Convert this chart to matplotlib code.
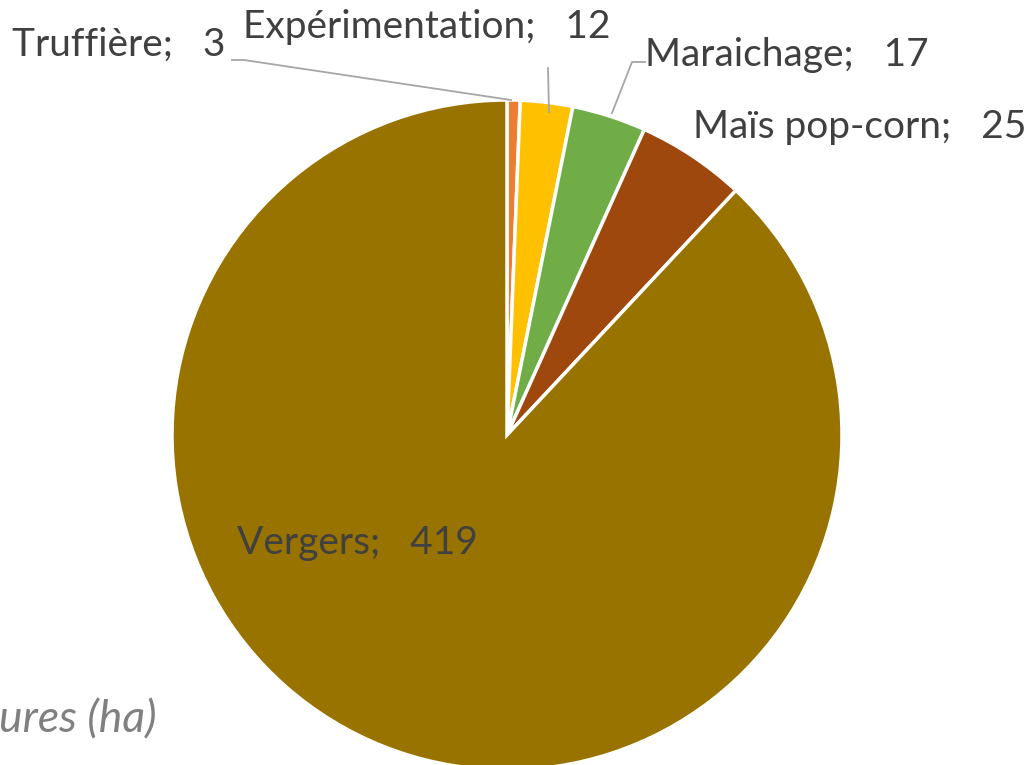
import matplotlib.pyplot as plt

# Data
categories = ["Truffière", "Expérimentation", "Maraichage", "Maïs pop-corn", "Vergers"]
surfaces = [3, 12, 17, 25, 419]
colors = ["#ED7D31", "#FFC000", "#70AD47", "#9E480E", "#997300"]
title = "ures (ha)"  # only visible part of the title in the reference

plt.rcParams['font.family'] = ['Lato', 'DejaVu Sans']

fig = plt.figure(figsize=(10.32, 7.65), dpi=100)
ax = fig.add_axes([0, 0, 1, 1])

# pie centre / radius in pixel units (y up)
cx, cy, r = 507, 330, 335
wedges, _ = ax.pie(surfaces, colors=colors, startangle=90, counterclock=False,
                   center=(cx, cy), radius=r, frame=True,
                   wedgeprops=dict(edgecolor="white", linewidth=2.5))
ax.set_xlim(0, 1032)
ax.set_ylim(0, 765)
ax.axis("off")

txt = "#404040"
fs = 28
# label positions (pixels, y up)
ax.text(12, 720, f"{categories[0]};   {surfaces[0]}", fontsize=fs, color=txt, va="center", ha="left")
ax.text(243, 738, f"{categories[1]};   {surfaces[1]}", fontsize=fs, color=txt, va="center", ha="left")
ax.text(645, 710, f"{categories[2]};   {surfaces[2]}", fontsize=fs, color=txt, va="center", ha="left")
ax.text(693, 638, f"{categories[3]};   {surfaces[3]}", fontsize=fs, color=txt, va="center", ha="left")
ax.text(237, 222, f"{categories[4]};   {surfaces[4]}", fontsize=fs, color=txt, va="center", ha="left")

# leader lines
lc = "#A6A6A6"
ax.plot([232, 244, 511], [705, 705, 665], color=lc, lw=1.3)
ax.plot([548, 549], [697, 653], color=lc, lw=1.3)
ax.plot([645, 632, 612], [703, 703, 652], color=lc, lw=1.3)

ax.text(157, 45, title, fontsize=32, color="#808080", style="italic",
        ha="right", va="center")

fig.savefig("out.png", dpi=100)
plt.close(fig)
